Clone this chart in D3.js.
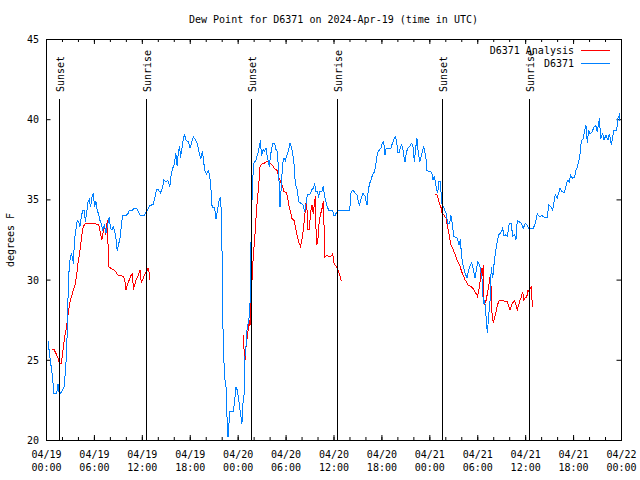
<!DOCTYPE html>
<html><head><meta charset="utf-8">
<script src="https://cdn.jsdelivr.net/npm/d3@7"></script>
<style>
body{margin:0;background:#fff}
text{font-family:"DejaVu Sans Mono",monospace;font-size:10px;fill:#000}
</style>
</head><body>
<svg id="c" width="640" height="480" style="background:#fff"></svg>
<script>
const titleText = "Dew Point for D6371 on 2024-Apr-19 (time in UTC)";
const yLabelText = "degrees F";
const startTime = "2024-04-19T00:00:00Z";
const endTime = "2024-04-22T00:00:00Z";
const yTicks = [20, 25, 30, 35, 40, 45];
const seriesNames = ["D6371 Analysis", "D6371"];
const seriesColors = ["#ff0000", "#0080ff"];
const sunEvents = ["Sunset", "Sunrise", "Sunset", "Sunrise", "Sunset", "Sunrise"];
const sunHours = [1.67, 12.56, 25.63, 36.44, 49.62, 60.52];

// D6371 observations: hours after 2024-04-19 00:00 UTC, dew point (F)
const obsHours = [0.25,0.5,0.75,1.0,1.33,1.5,1.67,1.92,2.25,2.42,2.58,2.67,2.75,2.83,3.0,3.17,3.33,3.42,3.58,3.75,3.92,4.08,4.25,4.42,4.58,4.83,4.92,5.08,5.25,5.42,5.58,5.75,5.92,6.08,6.25,6.42,6.58,6.75,6.92,7.08,7.33,7.5,7.67,7.83,7.92,8.08,8.25,8.42,8.58,8.75,8.92,9.08,9.25,9.42,9.58,10.0,10.25,10.42,10.75,11.08,11.33,11.58,11.83,12.33,12.5,12.83,13.0,13.42,13.58,13.83,14.08,14.33,14.58,14.75,15.0,15.25,15.5,15.67,15.83,16.08,16.25,16.42,16.58,16.75,16.83,17.0,17.17,17.33,17.5,17.83,18.03,18.45,18.87,19.1,19.37,19.6,19.87,20.1,20.37,20.53,20.7,20.8,21.1,21.29,21.46,21.7,21.87,21.96,22.04,22.1,22.2,22.37,22.54,22.62,22.79,22.87,23.04,23.46,23.63,23.79,23.96,24.1,24.29,24.54,24.6,24.79,24.87,25.04,25.2,25.37,25.54,25.6,25.7,25.87,26.04,26.29,26.54,26.7,26.88,26.96,27.2,27.37,27.54,27.7,27.96,28.13,28.38,28.63,28.8,28.96,29.13,29.3,29.46,29.63,29.8,29.96,30.13,30.38,30.55,30.72,30.88,31.05,31.22,31.47,31.64,31.97,32.22,32.39,32.55,32.72,33.05,33.3,33.47,33.64,33.8,33.97,34.13,34.3,34.55,34.72,34.88,35.13,35.4,35.9,36.06,36.19,36.52,38.03,38.19,38.44,38.69,38.94,39.1,39.27,39.44,39.69,39.94,40.19,40.36,40.53,40.7,40.86,41.11,41.28,41.45,41.61,41.95,42.11,42.28,42.45,42.61,42.95,43.2,43.37,43.62,43.78,43.95,44.03,44.2,44.37,44.53,44.7,44.78,44.95,45.12,45.29,45.54,45.79,45.95,46.12,46.29,46.45,46.62,46.79,46.95,47.12,47.29,47.45,47.62,47.7,48.29,48.46,48.62,48.79,48.88,49.04,49.2,49.37,49.46,49.62,49.79,49.96,50.12,50.3,50.55,50.71,50.88,51.05,51.47,51.72,51.88,52.05,52.22,52.47,52.72,52.88,53.05,53.3,53.47,53.72,53.88,54.05,54.3,54.6,54.77,54.93,55.1,55.26,55.43,55.6,55.76,55.93,56.1,56.26,56.43,56.68,56.93,57.18,57.35,57.51,57.76,58.01,58.26,58.43,58.68,58.85,59.01,59.26,59.51,59.76,60.01,60.26,60.44,60.6,61.02,61.27,61.52,61.85,62.1,62.35,62.77,62.94,63.19,63.44,63.6,63.77,64.02,64.19,64.36,64.61,64.86,65.11,65.28,65.53,65.69,65.94,66.19,66.36,66.53,66.7,66.86,66.95,67.11,67.28,67.44,67.61,67.78,67.94,68.11,68.36,68.61,68.86,69.03,69.3,69.45,69.7,69.87,70.12,70.37,70.54,70.79,70.95,71.12,71.45,71.62,71.79,71.87];
const obsValues = [26.2,25.1,24.2,22.9,22.9,23.5,22.8,23.0,23.3,24.2,25.4,27.1,28.7,30.2,31.2,31.6,31.4,31.0,32.5,33.1,33.7,33.6,33.3,33.9,34.3,34.3,33.6,34.1,34.8,35.0,34.5,35.1,35.4,34.5,34.9,34.3,34.1,33.7,33.5,33.1,33.4,32.9,33.3,33.7,33.9,33.2,33.1,33.3,33.1,32.6,31.8,32.2,32.5,33.3,34.0,34.0,34.1,34.3,34.3,34.45,34.45,34.2,34.0,34.0,34.2,34.45,34.6,34.7,35.0,35.6,35.6,35.4,35.7,36.2,36.1,36.2,35.8,36.5,36.9,37.2,37.9,37.1,38.0,38.3,37.6,38.1,38.7,39.1,38.7,38.6,38.2,38.9,38.6,38.1,37.5,38.0,36.8,36.6,36.8,36.3,35.4,34.5,34.5,33.8,34.3,35.0,35.1,33.9,31.8,29.1,25.8,23.9,23.3,21.9,20.2,20.8,21.8,21.8,22.5,23.3,23.1,22.6,21.9,21.0,22.1,22.7,25.0,25.8,27.1,27.3,28.3,30.0,33.3,36.2,37.25,37.45,37.9,38.3,38.7,37.7,38.1,38.0,38.2,37.7,37.05,37.8,38.5,38.5,38.1,38.0,36.8,34.5,35.8,37.25,37.6,37.4,37.7,38.1,38.5,38.3,37.9,37.25,36.0,35.6,34.85,34.75,34.65,34.2,34.7,35.3,35.3,35.6,35.7,36.0,35.5,35.5,35.2,35.5,35.5,35.8,35.2,34.7,34.3,34.3,34.0,34.0,34.3,34.3,35.4,35.6,35.4,35.3,34.85,34.65,35.0,35.4,35.2,34.65,35.6,36.0,36.2,36.5,36.7,37.1,37.7,38.0,38.2,38.5,38.6,37.8,38.2,38.2,38.2,38.5,38.8,38.9,38.4,37.9,37.9,38.2,38.4,38.1,37.8,37.35,37.9,38.2,38.3,38.5,38.3,37.35,38.2,38.8,37.9,37.35,37.6,38.0,38.3,37.9,37.45,36.8,36.7,36.2,36.4,36.0,35.7,35.4,36.1,36.1,35.5,34.55,34.55,34.3,34.1,33.5,33.5,34.0,33.5,32.7,32.6,32.15,32.5,31.4,30.9,30.4,30.1,30.5,30.8,31.05,30.7,30.1,30.6,31.1,30.9,30.0,28.5,28.7,27.7,26.65,27.7,28.7,30.8,30.1,30.95,31.6,32.2,32.8,32.9,33.2,32.7,32.8,32.7,33.5,33.5,32.7,32.8,32.5,33.7,33.6,33.5,33.2,33.5,33.4,33.2,33.2,33.2,33.5,34.1,33.9,34.0,33.9,33.9,34.65,34.55,34.3,34.8,35.3,35.1,35.4,35.7,35.5,35.4,35.8,36.2,36.1,36.5,36.3,36.4,36.8,37.0,37.35,37.75,38.4,38.7,38.8,39.3,39.6,38.5,39.3,39.1,39.2,39.5,39.6,39.2,40.05,38.8,39.1,38.7,39.0,38.7,39.1,38.4,38.9,39.3,39.3,40.05,40.25,39.9];

// D6371 Analysis: null marks a gap in the series
const anaHours = [0.75,1.0,1.25,1.5,1.67,1.92,2.09,2.25,2.42,2.59,2.67,2.84,3.0,3.17,3.34,3.5,3.67,3.84,4.0,4.17,4.34,4.5,4.67,4.92,5.42,5.84,6.5,6.67,6.84,7.0,7.17,7.34,7.5,7.67,7.76,7.84,8.17,8.51,8.76,8.93,9.18,9.43,9.68,9.85,10.02,10.18,10.43,10.68,10.85,10.93,11.1,11.27,11.52,11.77,11.93,12.1,12.35,12.6,12.77,12.93,13.02,
  18.0,
  24.7,24.79,24.96,25.04,25.21,25.38,25.46,25.54,25.63,25.71,25.8,25.96,26.13,26.29,26.46,26.63,26.8,27.05,27.3,27.63,27.88,28.13,28.38,28.63,28.96,29.13,29.3,29.55,29.8,30.13,30.3,30.47,30.63,30.8,31.05,31.22,31.38,31.63,31.88,32.05,32.22,32.38,32.55,32.72,32.8,32.97,33.13,33.3,33.47,33.64,33.72,33.8,33.89,34.05,34.22,34.39,34.55,34.72,34.8,34.89,35.14,35.39,35.64,35.81,35.9,36.07,36.4,36.65,36.82,36.98,
  42.0,
  48.71,48.96,49.12,49.29,49.46,49.62,49.79,49.96,50.12,50.2,50.37,50.54,50.7,50.87,51.04,51.29,51.46,51.62,51.87,52.04,52.21,52.46,52.71,52.87,53.29,53.54,53.71,53.96,54.04,54.21,54.35,54.52,54.6,54.77,54.85,54.93,55.1,55.26,55.43,55.6,55.76,55.85,56.01,56.18,56.35,56.51,56.76,57.1,57.43,57.76,57.93,58.1,58.26,58.43,58.68,58.85,59.01,59.18,59.35,59.51,59.68,59.85,60.02,60.19,60.36,60.48,60.61,60.77,60.85,60.94];
const anaValues = [25.65,25.65,25.4,25.1,24.8,24.8,25.4,26.1,26.65,27.1,27.5,28.1,28.6,28.9,29.2,29.45,29.75,30.3,31.0,31.5,32.15,32.8,33.3,33.5,33.5,33.5,33.45,33.3,32.8,32.5,33.0,33.3,32.8,33.7,32.3,30.8,30.7,30.6,30.5,30.3,30.25,30.25,30.2,30.0,29.35,29.65,30.0,30.3,30.4,29.35,29.65,30.0,30.2,30.6,29.8,30.0,30.3,30.5,30.7,30.4,30.0,
  null,
  26.55,25.7,25.0,25.8,26.45,27.1,27.5,27.1,28.1,28.9,30.0,31.5,32.5,33.8,35.0,35.8,37.05,37.2,37.25,37.35,37.35,37.25,37.1,36.9,36.8,36.4,36.2,35.9,35.5,35.4,35.0,34.45,34.2,33.8,33.7,33.3,32.9,32.35,32.05,32.5,33.1,33.9,34.75,34.2,33.1,33.1,34.2,34.65,34.1,34.85,35.2,33.3,32.15,32.5,33.7,34.1,34.4,34.9,33.7,31.4,31.5,31.45,31.45,31.5,31.6,31.0,30.8,30.5,30.2,29.9,
  null,
  35.3,35.3,35.0,34.7,34.5,34.1,34.05,33.9,33.85,33.5,33.1,32.6,32.15,32.0,31.8,31.5,31.25,31.05,30.8,30.5,30.3,30.0,29.8,29.65,29.55,29.4,29.25,29.05,28.95,29.35,29.9,30.7,30.2,30.9,28.4,28.5,28.7,29.1,29.6,30.2,29.4,27.9,27.3,27.6,28.0,28.4,28.7,28.7,28.65,28.65,28.35,28.1,28.35,28.55,28.7,28.4,28.1,28.4,28.7,28.9,29.25,28.7,28.9,28.9,29.35,29.25,29.45,29.55,28.75,28.3];

const L = 46, R = 621, T = 39, B = 440;
const t0 = new Date(startTime);
const toDate = h => new Date(t0.getTime() + h * 3600e3);

const svg = d3.select("#c");
const x = d3.scaleUtc().domain([t0, new Date(endTime)]).range([L, R]);
const y = d3.scaleLinear().domain([yTicks[0], yTicks[yTicks.length - 1]]).range([B, T]);

// minor ticks (every 2 h), bottom and top
const minorAx = d3.axisBottom(x).ticks(d3.utcHour.every(2)).tickSize(-3).tickSizeOuter(0).tickFormat("");
svg.append("g").attr("transform", `translate(0,${B})`).call(minorAx).call(g => g.select(".domain").remove());
svg.append("g").attr("transform", `translate(0,${T})`).call(d3.axisTop(x).ticks(d3.utcHour.every(2)).tickSize(-3).tickSizeOuter(0).tickFormat(""))
  .call(g => g.select(".domain").remove());

// major ticks (every 6 h) with two-line labels
const fmtD = d3.utcFormat("%m/%d"), fmtT = d3.utcFormat("%H:%M");
const gx = svg.append("g").attr("transform", `translate(0,${B})`)
  .call(d3.axisBottom(x).ticks(d3.utcHour.every(6)).tickSize(-5).tickSizeOuter(0).tickFormat(fmtD));
gx.select(".domain").remove();
gx.selectAll(".tick text").each(function(d) {
  const t = d3.select(this);
  t.attr("dy", null).attr("y", null).text(null);
  t.append("tspan").attr("x", 0).attr("y", 18).text(fmtD(d));
  t.append("tspan").attr("x", 0).attr("y", 31).text(fmtT(d));
});
svg.append("g").attr("transform", `translate(0,${T})`)
  .call(d3.axisTop(x).ticks(d3.utcHour.every(6)).tickSize(-5).tickSizeOuter(0).tickFormat(""))
  .call(g => g.select(".domain").remove());

// y axes
const gy = svg.append("g").attr("transform", `translate(${L},0)`)
  .call(d3.axisLeft(y).tickValues(yTicks).tickSize(-4.5).tickSizeOuter(0).tickPadding(7).tickFormat(d3.format("d")));
gy.select(".domain").remove();
gy.selectAll(".tick text").attr("dy", "0.35em");
svg.append("g").attr("transform", `translate(${R},0)`)
  .call(d3.axisRight(y).tickValues(yTicks).tickSize(-4.5).tickSizeOuter(0).tickFormat(""))
  .call(g => g.select(".domain").remove());

svg.selectAll(".tick line").attr("stroke", "#000");
svg.selectAll("g").attr("font-family", null).attr("font-size", null);

// border
svg.append("rect").attr("x", L + 0.5).attr("y", T + 0.5).attr("width", R - L).attr("height", B - T)
  .attr("fill", "none").attr("stroke", "#000").attr("stroke-width", 1);

// series
const line = d3.line().defined(d => d.v != null).x(d => x(d.t)).y(d => y(d.v));
const ana = anaHours.map((h, i) => ({t: toDate(h), v: anaValues[i]}));
const obs = obsHours.map((h, i) => ({t: toDate(h), v: obsValues[i]}));
svg.append("path").datum(ana).attr("d", line).attr("fill", "none")
  .attr("stroke", seriesColors[0]).attr("stroke-width", 1).attr("shape-rendering", "crispEdges");
svg.append("path").datum(obs).attr("d", line).attr("fill", "none")
  .attr("stroke", seriesColors[1]).attr("stroke-width", 1).attr("shape-rendering", "crispEdges");

// sunrise / sunset markers
sunHours.forEach((h, i) => {
  const xs = Math.round(x(toDate(h))) + 0.5;
  svg.append("line").attr("x1", xs).attr("x2", xs).attr("y1", 99).attr("y2", B)
    .attr("stroke", "#000").attr("stroke-width", 1);
  svg.append("text").attr("transform", `translate(${xs + 4},92) rotate(-90)`)
    .attr("text-anchor", "start").text(sunEvents[i]);
});

// title, axis label
svg.append("text").attr("x", (L + R) / 2).attr("y", 23).attr("text-anchor", "middle").text(titleText);
svg.append("text").attr("transform", "translate(14,240) rotate(-90)").attr("text-anchor", "middle").text(yLabelText);

// legend
seriesNames.forEach((n, i) => {
  const ly = 50 + i * 13;
  svg.append("text").attr("x", 574).attr("y", ly + 3.5).attr("text-anchor", "end").text(n);
  svg.append("line").attr("x1", 581).attr("x2", 610).attr("y1", ly + 0.5).attr("y2", ly + 0.5)
    .attr("stroke", seriesColors[i]).attr("stroke-width", 1);
});
</script>
</body></html>
